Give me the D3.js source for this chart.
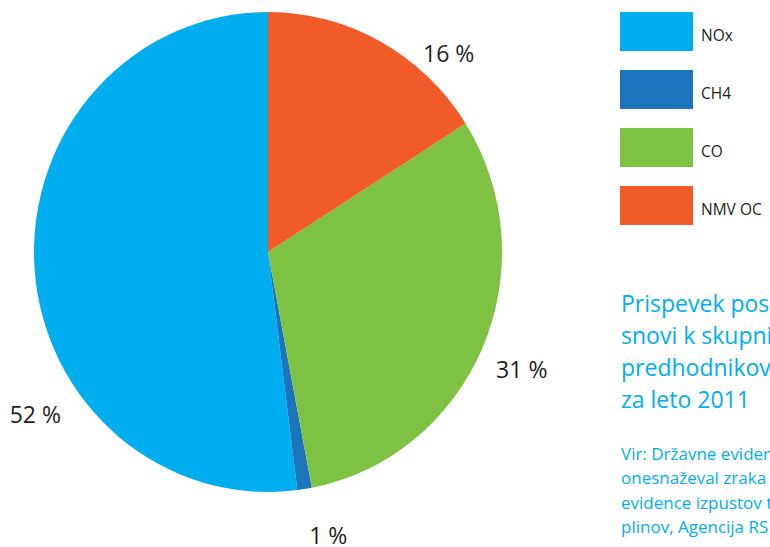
<!DOCTYPE html>
<html>
<head>
<meta charset="utf-8">
<script src="https://cdn.jsdelivr.net/npm/d3@7/dist/d3.min.js"></script>
<style>
  html, body { margin: 0; padding: 0; background: #fff; }
  svg { display: block; font-family: "Open Sans", "Noto Sans", sans-serif; }
</style>
</head>
<body>
<svg id="chart" width="770" height="547"></svg>
<script>
// Emission shares of ozone precursors, 2011
const categories = ["NOx", "CH4", "CO", "NMV OC"];
const shares = [52, 1, 31, 16];
const colors = ["#00aeef", "#1c75bc", "#7dc242", "#f15a29"];

// Percent label placement around the pie (angle in degrees clockwise from top, radius in px)
const labelAngles = [235, 168, 115, 42.4];
const labelRadii = [284, 290, 280, 268];

const titleLines = ["Prispevek posameznih", "snovi k skupnim emisijam", "predhodnikov ozona", "za leto 2011"];
const sourceLines = ["Vir: Državne evidence izpustov", "onesnaževal zraka in Državne", "evidence izpustov toplogrednih", "plinov, Agencija RS za okolje"];

const svg = d3.select("#chart");
const cx = 268, cy = 252, rx = 234, ry = 240;

const pie = d3.pie().sort(null).value(d => d.value)
  .startAngle(0).endAngle(-2 * Math.PI);
const arcs = pie(categories.map((c, i) => ({ name: c, value: shares[i], color: colors[i] })));
const arc = d3.arc().innerRadius(0).outerRadius(rx);

svg.append("g")
  .attr("transform", `translate(${cx},${cy}) scale(1,${ry / rx})`)
  .selectAll("path")
  .data(arcs)
  .join("path")
  .attr("d", arc)
  .attr("fill", d => d.data.color);

// percentage labels
svg.append("g")
  .selectAll("text")
  .data(arcs)
  .join("text")
  .attr("x", (d, i) => cx + labelRadii[i] * Math.sin(labelAngles[i] * Math.PI / 180))
  .attr("y", (d, i) => cy - labelRadii[i] * Math.cos(labelAngles[i] * Math.PI / 180))
  .attr("dy", "0.35em")
  .attr("text-anchor", "middle")
  .attr("font-size", 23)
  .attr("fill", "#231f20")
  .text(d => `${d.data.value} %`);

// legend
const legend = svg.append("g").attr("transform", "translate(620,12)");
const item = legend.selectAll("g")
  .data(categories)
  .join("g")
  .attr("transform", (d, i) => `translate(0,${i * 58})`);
item.append("rect")
  .attr("width", 73).attr("height", 39)
  .attr("fill", (d, i) => colors[i]);
item.append("text")
  .attr("x", 81).attr("y", 29)
  .attr("font-size", 15.5)
  .attr("fill", "#231f20")
  .text(d => d);

// title
svg.append("g")
  .selectAll("text")
  .data(titleLines)
  .join("text")
  .attr("x", 621)
  .attr("y", (d, i) => 312 + i * 32)
  .attr("font-size", 23)
  .attr("fill", "#00aeef")
  .text(d => d);

// source note
svg.append("g")
  .selectAll("text")
  .data(sourceLines)
  .join("text")
  .attr("x", 621)
  .attr("y", (d, i) => 460 + i * 24.3)
  .attr("font-size", 17)
  .attr("fill", "#00aeef")
  .text(d => d);
</script>
</body>
</html>
